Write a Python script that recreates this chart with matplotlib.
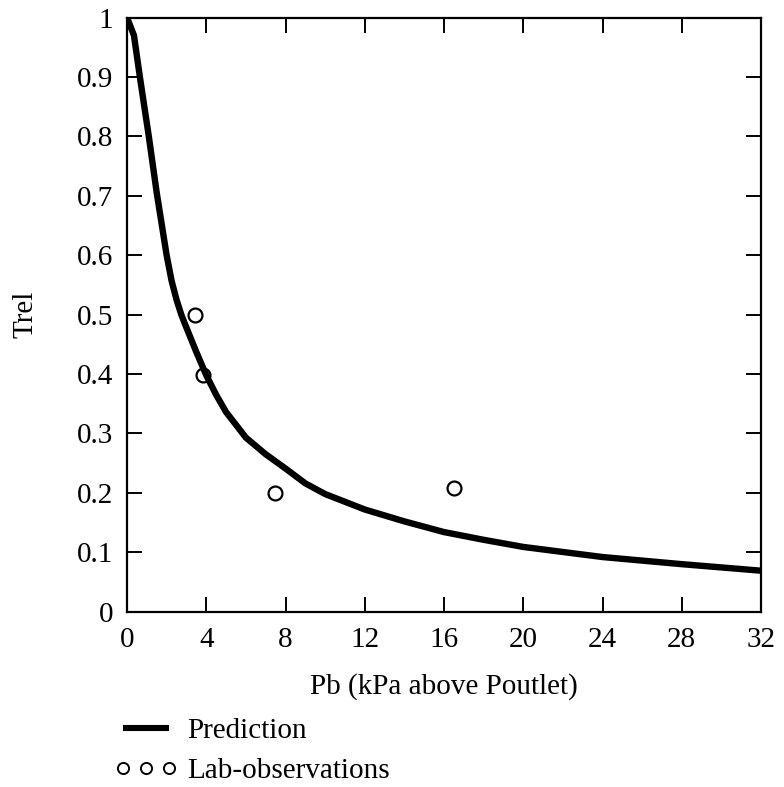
import matplotlib
matplotlib.use('Agg')
import matplotlib.pyplot as plt
from matplotlib import rcParams
from matplotlib.lines import Line2D
from matplotlib.ticker import FormatStrFormatter

params = {'font.family': 'serif', 'font.serif': ['Liberation Serif'],
          'font.size': 21, 'axes.labelsize': 21,
          'xtick.labelsize': 21, 'ytick.labelsize': 21}
rcParams.update(params)

###############################################################################
# Data
###############################################################################
pred_pb = [0.0, 0.35, 0.65, 1.1, 1.5, 2.0, 2.25, 2.5, 2.75, 3.0, 3.5, 4.0,
           4.5, 5.0, 6.0, 7.0, 8.0, 9.0, 10.0, 12.0, 14.0, 16.0, 18.0, 20.0,
           24.0, 28.0, 32.0]
pred_trel = [1.0, 0.97, 0.9, 0.8, 0.705, 0.6, 0.557, 0.525, 0.499, 0.478,
             0.437, 0.398, 0.365, 0.336, 0.293, 0.265, 0.241, 0.216, 0.198,
             0.172, 0.152, 0.134, 0.121, 0.109, 0.092, 0.08, 0.069]

obs_pb = [3.45, 3.84, 7.49, 16.5]
obs_trel = [0.5, 0.399, 0.199, 0.209]

x_ticks = [0, 4, 8, 12, 16, 20, 24, 28, 32]
y_ticks = [0, 0.1, 0.2, 0.3, 0.4, 0.5, 0.6, 0.7, 0.8, 0.9, 1.0]

###############################################################################
# Plot
###############################################################################
fig = plt.figure(figsize=(7.84, 7.87), dpi=100)
ax = fig.add_axes([127 / 784, 1 - 611.7 / 787, 634 / 784, 594.2 / 787])

ax.plot(pred_pb, pred_trel, color='black', linewidth=4.6,
        solid_joinstyle='round', solid_capstyle='butt', zorder=2)
ax.plot(obs_pb, obs_trel, linestyle='none', marker='o', markersize=10,
        markerfacecolor='none', markeredgecolor='black', markeredgewidth=1.6,
        zorder=3)

ax.set_xlim(0, 32)
ax.set_ylim(0, 1)
ax.set_xticks(x_ticks)
ax.set_yticks(y_ticks)
ax.yaxis.set_major_formatter(FormatStrFormatter('%g'))
ax.tick_params(direction='in', length=11, width=1.4, top=True, right=True,
               labeltop=False, labelright=False)
ax.tick_params(axis='x', pad=11)
ax.tick_params(axis='y', pad=10)
for spine in ax.spines.values():
    spine.set_linewidth(1.6)

ax.set_xlabel('Pb (kPa above Poutlet)')
ax.set_ylabel('Trel')
ax.xaxis.set_label_coords(0.5, -0.103)
ax.yaxis.set_label_coords(-0.14, 0.5)

handles = [Line2D([], [], color='black', linewidth=4.4, solid_capstyle='butt'),
           Line2D([], [], linestyle='none', marker='o', markersize=8,
                  markerfacecolor='none', markeredgecolor='black',
                  markeredgewidth=1.4)]
fig.legend(handles, ['Prediction', 'Lab-observations'], numpoints=3,
           loc='upper left', bbox_to_anchor=(114 / 784, 1 - 718 / 787),
           frameon=False, borderpad=0, borderaxespad=0, handlelength=2.2,
           handletextpad=0.3, labelspacing=0.45)

plt.savefig('out.png', dpi=100)
plt.close()
